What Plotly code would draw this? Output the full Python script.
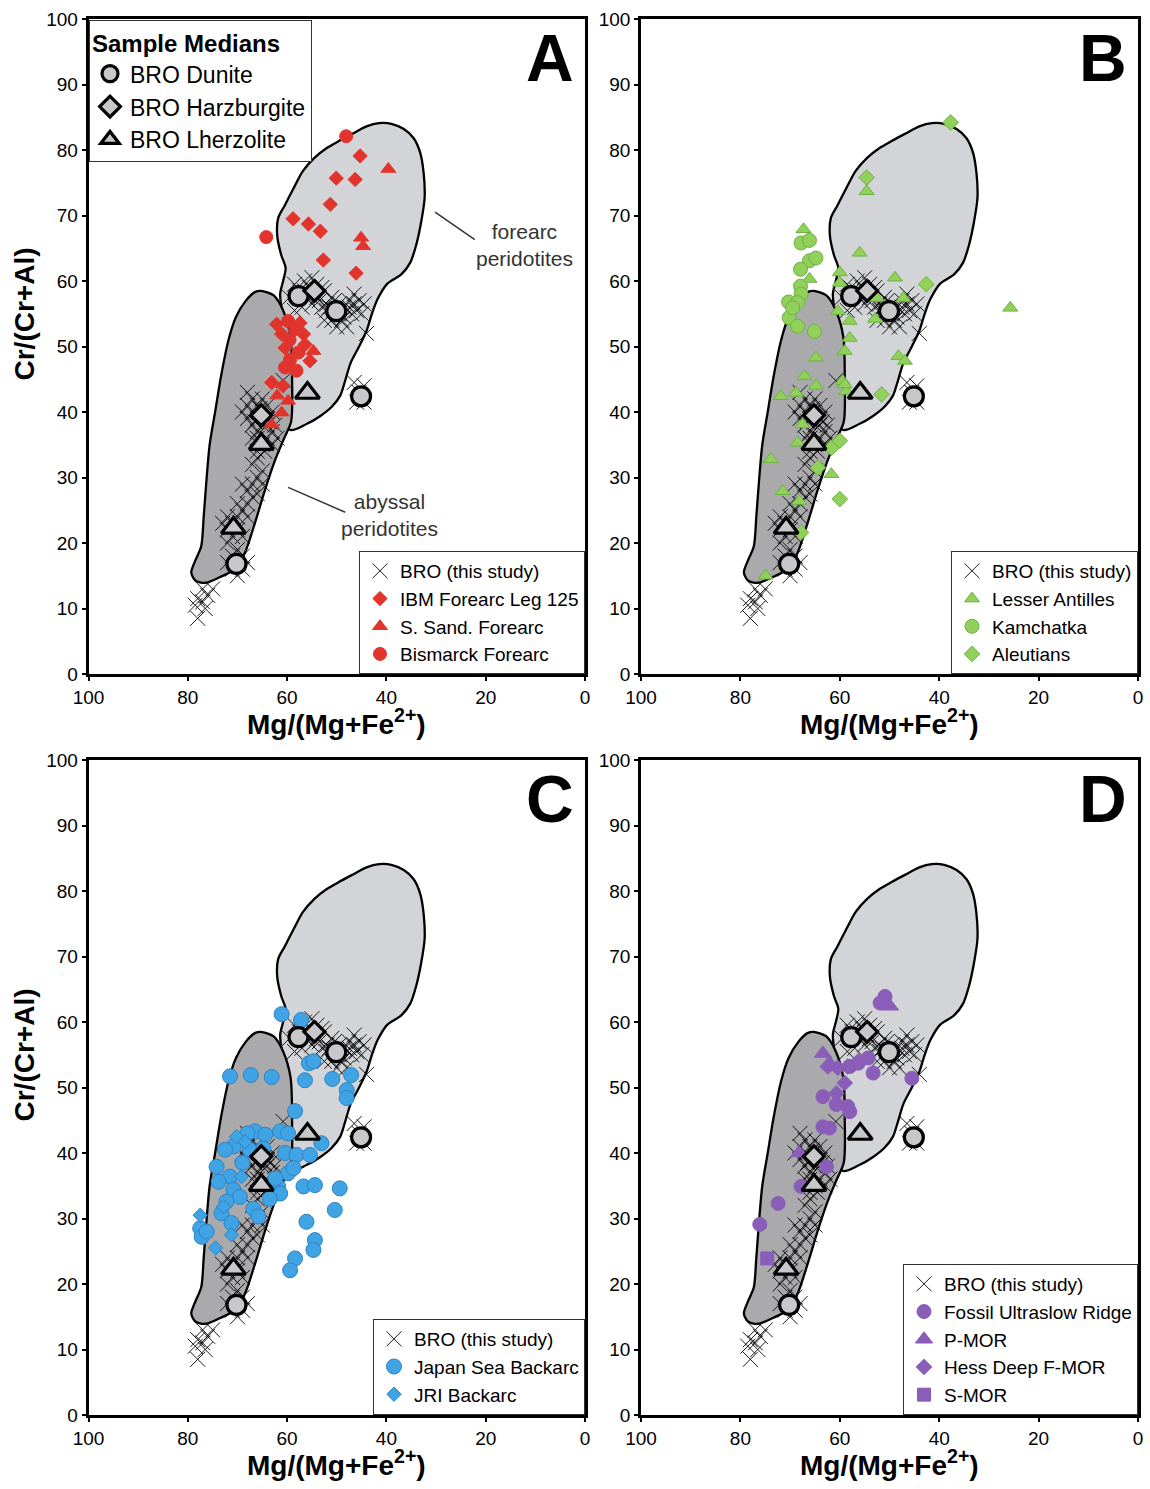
import plotly.graph_objects as go

FONT = "Liberation Sans, Arial, sans-serif"

# ---------------- field outlines (Mg#, Cr#) ----------------
FOREARC_X = [59.5, 56.0, 53.3, 51.0, 49.3, 48.3, 47.2, 45.5, 44.0, 43.0, 41.8, 39.8, 37.0, 35.2, 34.0, 33.0, 32.3,
             32.5, 33.2, 34.5, 36.5, 39.0, 41.5, 44.0, 46.8, 49.5, 52.0, 54.5, 56.8, 58.8, 60.5, 61.8, 62.0, 61.2,
             60.3, 60.8, 61.4, 60.0, 59.5]
FOREARC_Y = [37.3, 38.2, 39.4, 40.8, 42.5, 44.8, 47.5, 50.0, 52.4, 54.8, 57.2, 59.6, 61.0, 62.8, 65.5, 69.0, 72.7,
             76.5, 79.6, 81.8, 83.2, 84.0, 84.1, 83.6, 82.5, 81.4, 80.3, 78.8, 76.8, 74.0, 71.5, 69.6, 67.0, 64.0,
             62.0, 60.0, 58.0, 50.0, 37.3]
ABYSSAL_X = [65.3, 62.7, 60.8, 59.3, 59.0, 59.2, 60.6, 62.5, 64.5, 66.3, 68.5, 70.5, 73.5, 76.5, 78.5, 79.3, 78.5,
             77.3, 76.8, 76.2, 75.6, 74.5, 73.3, 71.8, 70.3, 68.3, 66.5, 65.3]
ABYSSAL_Y = [58.5, 57.8, 55.5, 51.5, 45.0, 38.5, 36.0, 32.5, 28.0, 23.5, 18.5, 16.0, 14.8, 13.9, 14.3, 15.5, 17.3,
             19.5, 24.0, 30.0, 35.0, 40.0, 45.5, 51.0, 54.5, 57.0, 58.3, 58.5]

# ---------------- BRO (this study) ----------------
BRO_X = [59.5, 58.5, 57.5, 56.5, 55.5, 54.5, 53.5, 52.5, 51.5, 50.5, 49.5, 48.5, 47.5, 46.5, 47, 49, 51, 52, 53, 55,
         57, 58.5, 50, 48, 46, 55, 56, 54, 52, 50.5, 49.5, 51, 47.5, 45.5, 45, 52.5, 53, 54, 56.5, 48.5, 46.5, 44.5,
         44, 60.8,
         46.5, 44.5, 45.5, 46, 44.5,
         68, 67, 66, 65, 64, 63, 67, 68, 66, 65, 64, 67, 63, 66, 64, 65, 67, 63, 62, 66, 64, 68, 69, 65.5, 66.5,
         63.5, 62.5, 64.5, 66,
         66, 67, 65, 66, 67, 68, 67, 68, 69, 68, 70, 71, 72, 70, 69, 71, 72, 70, 71, 69, 70, 71, 69, 70, 68, 72,
         73, 72, 70, 69, 65, 66,
         78, 78.5, 77, 76, 75, 77, 78, 76.5]
BRO_Y = [57.5, 59.5, 58.5, 60, 59, 58, 57, 58.5, 56, 57, 55, 56, 57, 58, 55, 54, 54, 55.5, 56, 56.5,
         56, 55.5, 53, 53, 55.5, 60.5, 57.5, 57.5, 56.5, 55.5, 56.5, 57.5, 56, 57, 55, 54, 59, 59.5, 58.5, 54.5, 56.5,
         56.5,
         52, 44.8,
         44.5, 41.5, 43, 41.5, 44,
         43, 42, 41, 42, 41, 40, 40, 41, 39, 38, 38, 38, 37, 36, 36, 35, 36, 35, 36, 37, 39, 39, 40, 40.5, 38.5,
         38.5, 38, 34, 34,
         33, 32, 31, 30, 29, 28, 27, 26, 25, 24, 24, 23, 22, 22, 21, 21, 20, 19, 18, 18, 17, 16, 16, 15, 17, 17,
         23, 24, 26, 29, 29, 27.5,
         8.5, 10.5, 11, 12, 13, 13, 11.5, 10]

DUNITE_X = [57.7, 50.1, 45.1, 70.2]
DUNITE_Y = [57.7, 55.4, 42.4, 16.8]
HARZ_X = [54.5, 65.2]
HARZ_Y = [58.5, 39.5]
LHERZ_X = [55.9, 65.2, 70.8]
LHERZ_Y = [42.9, 35.1, 22.3]

# ---------------- Panel A: forearc ----------------
IBM_X = [45.3, 50.1, 46.3, 51.3, 58.8, 55.7, 53.3, 52.7, 46.1, 62.1, 57.4, 61.1, 56.7, 60.4, 56.4, 55.4, 63.1, 60.8,
         58.5]
IBM_Y = [79.1, 75.7, 75.5, 71.7, 69.5, 68.7, 67.6, 63.2, 61.2, 53.4, 53.6, 51.9, 51.9, 49.8, 50.3, 47.8, 44.5, 44.0,
         52.5]
SSAND_X = [39.6, 45.1, 44.7, 54.7, 59.8, 61.1, 63.1, 62.0]
SSAND_Y = [77.1, 66.6, 65.3, 49.3, 41.7, 39.9, 38.1, 42.5]
BISMARCK_X = [48.1, 64.2, 59.8, 57.7, 59.4, 60.4, 58.1, 59.5]
BISMARCK_Y = [82.1, 66.7, 53.9, 49.1, 48.0, 46.8, 46.3, 51.0]

# ---------------- Panel B: arcs ----------------
LANT_X = [54.6, 67.3, 56.0, 66.1, 60.0, 60.0, 48.9, 25.7, 47.2, 52.6, 60.4, 58.0, 52.9, 58.0, 59.0, 64.8, 48.2, 46.9,
          67.1, 59.4, 71.9, 68.8, 64.8, 58.7, 67.5, 73.9, 61.7, 71.5, 68.2, 74.9, 68.5, 59.0]
LANT_Y = [73.7, 67.9, 64.3, 60.3, 61.3, 59.7, 60.5, 55.9, 57.4, 57.4, 55.4, 53.9, 54.2, 51.3, 49.3, 48.3, 48.5, 47.8,
          45.5, 44.7, 42.4, 42.9, 44.0, 43.2, 38.1, 32.8, 30.5, 27.9, 26.4, 15.0, 35.3, 44.2]
KAM_X = [67.8, 66.1, 66.1, 64.8, 67.9, 67.9, 67.8, 70.3, 68.5, 70.2, 68.5, 65.1, 69.5]
KAM_Y = [65.8, 66.2, 63.1, 63.5, 61.8, 59.2, 58.0, 56.8, 56.7, 54.4, 53.1, 52.3, 55.9]
ALEU_X = [37.7, 54.6, 42.6, 51.6, 60.0, 61.7, 64.4, 60.0, 67.8]
ALEU_Y = [84.2, 75.8, 59.5, 42.7, 35.6, 34.5, 31.5, 26.7, 21.6]

# ---------------- Panel C: backarcs ----------------
JAPAN_X = [61.1, 57.2, 71.5, 67.3, 63.1, 55.6, 54.7, 56.4, 50.9, 47.1, 48.0, 48.0, 58.4,
           66.5, 64.4, 61.4, 59.8, 70.8, 67.5, 60.4, 58.1, 55.4, 53.1, 74.2, 71.5, 73.8, 70.8, 69.5, 72.2, 73.2,
           71.2, 77.5, 77.2, 76.2, 66.8, 65.8, 61.8, 61.4, 59.8, 58.7, 56.7, 54.4, 49.4, 50.4, 56.1, 54.4, 54.7,
           58.4, 59.4, 64.8, 62.4, 68.0, 69.0, 72.5, 63.5]
JAPAN_Y = [61.2, 60.3, 51.7, 51.9, 51.6, 53.7, 54.0, 51.1, 51.3, 51.9, 49.6, 48.4, 46.4,
           43.3, 42.8, 43.3, 43.0, 41.0, 40.5, 40.0, 39.7, 39.7, 41.5, 37.9, 36.4, 35.6, 34.4, 33.3, 32.6, 30.8,
           29.3, 28.5, 27.2, 28.0, 31.5, 30.3, 34.9, 33.8, 36.9, 37.7, 34.9, 35.1, 34.6, 31.3, 29.5, 26.7, 25.2,
           23.9, 22.1, 40.7, 36.1, 43.0, 38.5, 40.5, 33.0]
JRI_X = [77.5, 74.4, 71.2, 69.2, 70.2, 72.8, 68.5]
JRI_Y = [30.5, 25.5, 27.5, 36.4, 42.5, 31.8, 41.7]

# ---------------- Panel D: mid-ocean ridges ----------------
FOSSIL_X = [50.9, 51.9, 54.3, 53.3, 45.5, 63.4, 60.7, 58.4, 58.0, 63.4, 62.1, 62.7, 67.8, 72.4, 76.1, 58.0, 56.3]
FOSSIL_Y = [63.9, 62.9, 54.5, 52.2, 51.4, 48.6, 47.4, 47.1, 46.3, 44.0, 43.8, 37.9, 34.9, 32.3, 29.1, 53.2, 53.7]
PMOR_X = [49.9, 63.4, 68.2, 62.1]
PMOR_Y = [62.4, 55.2, 40.0, 53.7]
HESS_X = [62.4, 60.4, 58.4, 59.0, 60.7, 56.3]
HESS_Y = [53.2, 53.0, 53.2, 50.7, 49.1, 54.0]
SMOR_X = [74.6]
SMOR_Y = [23.9]

X_TICKS = [100, 80, 60, 40, 20, 0]
Y_TICKS = [0, 10, 20, 30, 40, 50, 60, 70, 80, 90, 100]
PANEL_LETTERS = ["A", "B", "C", "D"]

RED = "#e2342c"
GREEN_FILL, GREEN_EDGE = "#92d05c", "#6ab33f"
BLUE_FILL, BLUE_EDGE = "#40a4e4", "#2b82c4"
PURPLE = "#8a5db9"
MEDIAN_FILL = "#c8c8ca"

W, H = 1150, 1489
# pixel frames of the four plot areas: (left, right, top, bottom)
FRAMES = [(88.5, 585, 19, 674), (641, 1138, 19, 674), (88.5, 585, 760, 1415), (641, 1138, 760, 1415)]

fig = go.Figure()

panel_series = [
    [("IBM Forearc Leg 125", IBM_X, IBM_Y, "diamond", 11, RED, RED),
     ("S. Sand. Forearc", SSAND_X, SSAND_Y, "triangle-up", 13, RED, RED),
     ("Bismarck Forearc", BISMARCK_X, BISMARCK_Y, "circle", 13, RED, RED)],
    [("Lesser Antilles", LANT_X, LANT_Y, "triangle-up", 13, GREEN_FILL, GREEN_EDGE),
     ("Kamchatka", KAM_X, KAM_Y, "circle", 14, GREEN_FILL, GREEN_EDGE),
     ("Aleutians", ALEU_X, ALEU_Y, "diamond", 12, GREEN_FILL, GREEN_EDGE)],
    [("Japan Sea Backarc", JAPAN_X, JAPAN_Y, "circle", 15, BLUE_FILL, BLUE_EDGE),
     ("JRI Backarc", JRI_X, JRI_Y, "diamond", 11, BLUE_FILL, BLUE_EDGE)],
    [("Fossil Ultraslow Ridge", FOSSIL_X, FOSSIL_Y, "circle", 14, PURPLE, PURPLE),
     ("P-MOR", PMOR_X, PMOR_Y, "triangle-up", 15, PURPLE, PURPLE),
     ("Hess Deep F-MOR", HESS_X, HESS_Y, "diamond", 12, PURPLE, PURPLE),
     ("S-MOR", SMOR_X, SMOR_Y, "square", 13, PURPLE, PURPLE)],
]

for i in range(4):
    xa = "x" if i == 0 else f"x{i+1}"
    ya = "y" if i == 0 else f"y{i+1}"
    leg = f"legend{i+1}" if i > 0 else "legend"
    fig.add_trace(go.Scatter(x=FOREARC_X, y=FOREARC_Y, xaxis=xa, yaxis=ya, mode="lines", fill="toself",
                             fillcolor="#d3d4d7", line=dict(color="black", width=2.3, shape="spline", smoothing=0.8),
                             showlegend=False, hoverinfo="skip"))
    fig.add_trace(go.Scatter(x=ABYSSAL_X, y=ABYSSAL_Y, xaxis=xa, yaxis=ya, mode="lines", fill="toself",
                             fillcolor="#aaaaac", line=dict(color="black", width=2.3, shape="spline", smoothing=0.8),
                             showlegend=False, hoverinfo="skip"))
    fig.add_trace(go.Scatter(x=BRO_X, y=BRO_Y, xaxis=xa, yaxis=ya, mode="markers", name="BRO (this study)",
                             legend=leg,
                             marker=dict(symbol="x-thin-open", size=15, color="black",
                                         line=dict(color="black", width=0.9))))
    for name, sx, sy, sym, sz, fc, ec in panel_series[i]:
        fig.add_trace(go.Scatter(x=sx, y=sy, xaxis=xa, yaxis=ya, mode="markers", name=name, legend=leg,
                                 marker=dict(symbol=sym, size=sz, color=fc, line=dict(color=ec, width=1))))
    for name, sx, sy, sym, sz in [("BRO Dunite", DUNITE_X, DUNITE_Y, "circle", 19),
                                  ("BRO Harzburgite", HARZ_X, HARZ_Y, "diamond", 16),
                                  ("BRO Lherzolite", LHERZ_X, LHERZ_Y, "triangle-up", 21)]:
        fig.add_trace(go.Scatter(x=sx, y=sy, xaxis=xa, yaxis=ya, mode="markers", name=name,
                                 legend="legend5", showlegend=(i == 0),
                                 marker=dict(symbol=sym, size=sz, color=MEDIAN_FILL,
                                             line=dict(color="black", width=3.2))))

layout = dict(width=W, height=H, margin=dict(l=0, r=0, t=0, b=0, autoexpand=False),
              plot_bgcolor="white", paper_bgcolor="white",
              font=dict(family=FONT, color="black"))

annotations = []
for i, (l, r, t, b) in enumerate(FRAMES):
    sfx = "" if i == 0 else str(i + 1)
    axis_common = dict(showline=True, linewidth=2.5, linecolor="black", mirror=True, showgrid=False,
                       zeroline=False, ticks="outside", ticklen=4, tickwidth=1.5, tickcolor="black",
                       automargin=False,
                       tickfont=dict(size=19, family=FONT, color="black"))
    layout["xaxis" + sfx] = dict(axis_common, domain=[l / W, r / W], range=[100, 0], tickvals=X_TICKS,
                                 anchor="y" + sfx)
    layout["yaxis" + sfx] = dict(axis_common, domain=[1 - b / H, 1 - t / H], range=[0, 100], tickvals=Y_TICKS,
                                 anchor="x" + sfx)
    xr = "x" + sfx
    yr = "y" + sfx
    annotations.append(dict(text=f"<b>{PANEL_LETTERS[i]}</b>", x=7, y=94, xref=xr, yref=yr, showarrow=False,
                            font=dict(size=66, family=FONT, color="black")))
    annotations.append(dict(text="<b>Mg/(Mg+Fe<sup>2+</sup>)</b>", x=(l + r) / 2 / W, y=1 - (b + 48) / H,
                            xref="paper", yref="paper", xanchor="center", yanchor="middle", showarrow=False,
                            font=dict(size=28, family=FONT, color="black")))
    if i in (0, 2):
        annotations.append(dict(text="<b>Cr/(Cr+Al)</b>", x=24 / W, y=1 - ((t + b) / 2 - 32) / H,
                                xref="paper", yref="paper", xanchor="center", yanchor="middle",
                                showarrow=False, textangle=-90,
                                font=dict(size=28, family=FONT, color="black")))

# field labels in panel A
annotations.append(dict(text="forearc<br>peridotites", x=12.1, y=65.5, xref="x", yref="y", showarrow=False,
                        font=dict(size=21, family=FONT, color="#333333")))
annotations.append(dict(text="abyssal<br>peridotites", x=39.3, y=24.3, xref="x", yref="y", showarrow=False,
                        font=dict(size=21, family=FONT, color="#333333")))
layout["annotations"] = annotations
layout["shapes"] = [
    dict(type="line", xref="x", yref="y", x0=30.2, y0=70.5, x1=22.2, y1=66.3, line=dict(color="#333", width=1.5)),
    dict(type="line", xref="x", yref="y", x0=59.8, y0=28.5, x1=48.3, y1=24.7, line=dict(color="#333", width=1.5)),
]

leg_common = dict(bgcolor="white", bordercolor="#333333", borderwidth=1, font=dict(size=19, family=FONT,
                  color="black"), itemwidth=30, tracegroupgap=0)
layout["legend"] = dict(leg_common, x=585 / W, y=1 - 674 / H, xanchor="right", yanchor="bottom")
layout["legend2"] = dict(leg_common, x=1138 / W, y=1 - 674 / H, xanchor="right", yanchor="bottom")
layout["legend3"] = dict(leg_common, x=585 / W, y=1 - 1415 / H, xanchor="right", yanchor="bottom")
layout["legend4"] = dict(leg_common, x=1138 / W, y=1 - 1415 / H, xanchor="right", yanchor="bottom")
layout["legend5"] = dict(leg_common, x=89 / W, y=1 - 20 / H, xanchor="left", yanchor="top",
                         font=dict(size=23, family=FONT, color="black"),
                         title=dict(text="<b>Sample Medians</b>", font=dict(size=24, family=FONT, color="black")))

fig.update_layout(**layout)
fig.write_html("out.html")
